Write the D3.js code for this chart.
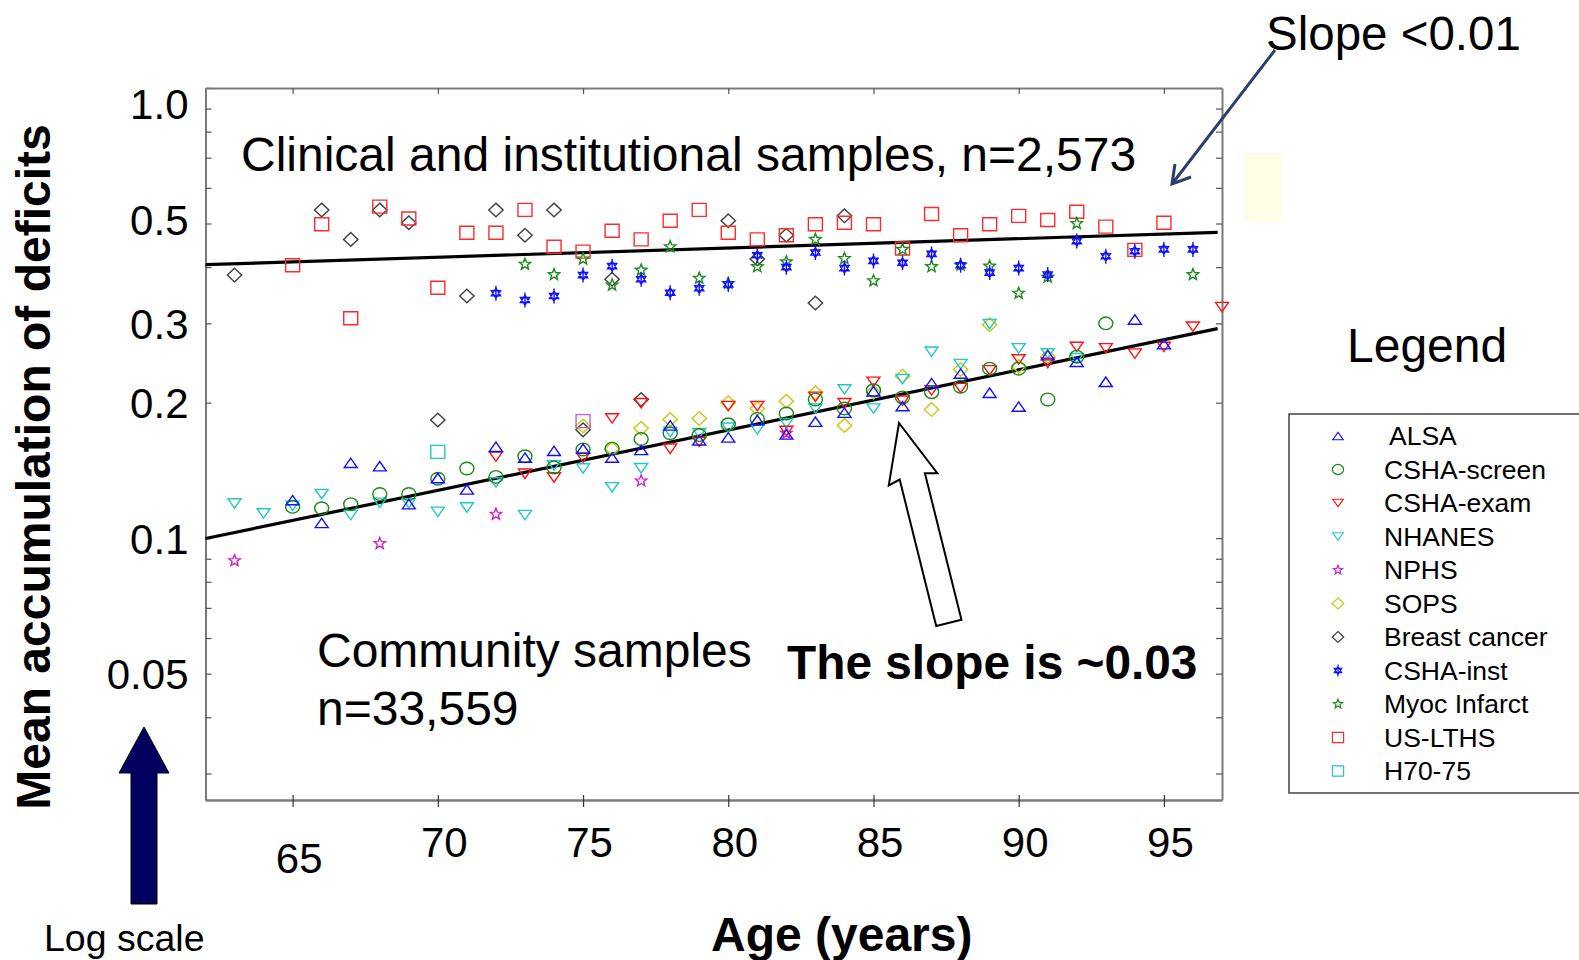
<!DOCTYPE html>
<html><head><meta charset="utf-8">
<script src="https://cdn.jsdelivr.net/npm/d3@7"></script>
<style>html,body{margin:0;padding:0;background:#fff;overflow:hidden}svg{display:block;font-family:"Liberation Sans",Arial,sans-serif}</style>
</head><body><svg id="c" width="1579" height="960"></svg>
<script>
// ---------- data ----------
const xTicks = [65, 70, 75, 80, 85, 90, 95];
const yMajor = [1.0, 0.5, 0.3, 0.2, 0.1, 0.05];
const yTickLabels = ["1.0", "0.5", "0.3", "0.2", "0.1", "0.05"];
const yMinor = [0.9, 0.8, 0.7, 0.6, 0.4, 0.09, 0.08, 0.07, 0.06, 0.04, 0.03];
const seriesNames = ["ALSA", "CSHA-screen", "CSHA-exam", "NHANES", "NPHS", "SOPS", "Breast cancer", "CSHA-inst", "Myoc Infarct", "US-LTHS", "H70-75"];

const alsa = [[65,.1215],[66,.1081],[67,.147],[68,.1445],[69,.119],[70,.136],[71,.1283],[72,.1596],[73,.151],[74,.1563],[75,.158],[76,.151],[77,.157],[78,.178],[79,.165],[80,.1674],[81,.183],[82,.170],[83,.1814],[84,.190],[85,.212],[86,.1965],[87,.221],[88,.232],[89,.2104],[90,.196],[91,.255],[92,.2465],[93,.2225],[94,.306],[95,.2697]];
const cshaScreen = [[65,.1174],[66,.1165],[67,.119],[68,.1253],[69,.1253],[70,.1355],[71,.1428],[72,.1368],[73,.152],[74,.1436],[75,.1574],[76,.158],[77,.166],[78,.171],[79,.1694],[80,.179],[81,.184],[82,.1892],[83,.2033],[84,.194],[85,.213],[86,.2054],[87,.211],[88,.217],[89,.238],[90,.238],[91,.2033],[92,.253],[93,.300]];
const cshaExam = [[72,.1517],[73,.139],[74,.1364],[75,.151],[76,.1845],[77,.1994],[78,.158],[79,.1636],[80,.1965],[81,.1965],[82,.173],[83,.206],[84,.1994],[85,.2225],[86,.202],[87,.213],[88,.2155],[89,.236],[90,.2495],[91,.245],[92,.266],[93,.264],[94,.257],[95,.266],[96,.295],[97,.326]];
const nhanes = [[63,.1194],[64,.1135],[65,.118],[66,.1253],[67,.1125],[68,.1198],[69,.1194],[70,.1144],[71,.117],[72,.133],[73,.1125],[74,.145],[75,.1428],[76,.1297],[77,.143],[78,.172],[79,.171],[80,.176],[81,.1744],[82,.18],[83,.194],[84,.214],[85,.194],[86,.2255],[87,.2595],[88,.2436],[89,.299],[90,.264],[91,.2572],[92,.251]];
const nphs = [[63,.0891],[68,.0973],[72,.113],[77,.134],[82,.171]];
const sops = [[75,.1774],[76,.158],[77,.1754],[78,.1834],[79,.1845],[80,.2],[81,.194],[82,.2015],[83,.2104],[84,.178],[85,.211],[86,.229],[87,.193],[88,.237],[89,.298],[90,.241],[91,.253]];
const breastCancer = [[63,.384],[66,.536],[67,.461],[68,.536],[69,.502],[70,.183],[71,.345],[72,.536],[73,.471],[74,.536],[75,.174],[76,.376],[77,.2033],[80,.507],[81,.417],[82,.471],[83,.333],[84,.520]];
const cshaInst = [[72,.350],[73,.338],[74,.345],[75,.384],[76,.402],[77,.376],[78,.351],[79,.359],[80,.366],[81,.425],[82,.400],[83,.431],[84,.398],[85,.413],[86,.409],[87,.428],[88,.404],[89,.389],[90,.398],[91,.385],[92,.457],[93,.423],[94,.434],[95,.438],[96,.438]];
const myocInfarct = [[73,.406],[74,.385],[75,.417],[76,.365],[77,.394],[78,.444],[79,.378],[80,.368],[81,.401],[82,.411],[83,.461],[84,.418],[85,.373],[86,.438],[87,.401],[88,.404],[89,.402],[90,.350],[91,.380],[92,.500],[96,.385]];
const usLths = [[65,.404],[66,.498],[67,.308],[68,.545],[69,.513],[70,.360],[71,.477],[72,.477],[73,.536],[74,.444],[75,.433],[76,.482],[77,.461],[78,.507],[79,.536],[80,.477],[81,.461],[82,.471],[83,.498],[84,.502],[85,.498],[86,.440],[87,.525],[88,.471],[89,.498],[90,.520],[91,.509],[92,.531],[93,.492],[94,.437],[95,.502]];
const h7075 = [[70,.1555]];
const h7075Extra = [[75,.182]];
const clinicalFit = [[62,.405],[96.85,.478]];
const communityFit = [[62,.0998],[96.85,.292]];

// ---------- styles ----------
const seriesData = [alsa, cshaScreen, cshaExam, nhanes, nphs, sops, breastCancer, cshaInst, myocInfarct, usLths, h7075];
const seriesStyle = [
  {shape:"triUp", color:"#1010ff"},
  {shape:"circle", color:"#1a8a1a"},
  {shape:"triDown", color:"#ff1010"},
  {shape:"triDown", color:"#20c8c8"},
  {shape:"star", color:"#cc22cc"},
  {shape:"diamond", color:"#c8c810"},
  {shape:"diamond", color:"#404040"},
  {shape:"hexa", color:"#1010ff"},
  {shape:"star", color:"#1a8a1a"},
  {shape:"square", color:"#ff2a2a"},
  {shape:"square", color:"#20c8c8"}
];
function shapePath(shape, s){
  const p = d3.path();
  if(shape==="triUp"){ p.moveTo(-6.5*s,4.7*s); p.lineTo(0,-4.7*s); p.lineTo(6.5*s,4.7*s); p.closePath(); }
  else if(shape==="triDown"){ p.moveTo(-6.5*s,-4.7*s); p.lineTo(6.5*s,-4.7*s); p.lineTo(0,4.7*s); p.closePath(); }
  else if(shape==="square"){ p.rect(-7*s,-6.5*s,14*s,13*s); }
  else if(shape==="diamond"){ p.moveTo(0,-6.8*s); p.lineTo(7.2*s,0); p.lineTo(0,6.8*s); p.lineTo(-7.2*s,0); p.closePath(); }
  else if(shape==="circle"){ return `M${-7*s},0a${7*s},${6.3*s} 0 1,0 ${14*s},0a${7*s},${6.3*s} 0 1,0 ${-14*s},0Z`; }
  else if(shape==="star"){
    for(let i=0;i<10;i++){ const r = (i%2===0?6*s:2.6*s); const a = -Math.PI/2 + i*Math.PI/5; const px=r*Math.cos(a), py=r*Math.sin(a); if(i===0)p.moveTo(px,py); else p.lineTo(px,py);} p.closePath();
  }
  else if(shape==="hexa"){
    p.moveTo(0,-5*s); p.lineTo(4.6*s,2.6*s); p.lineTo(-4.6*s,2.6*s); p.closePath();
    p.moveTo(0,5*s); p.lineTo(4.6*s,-2.6*s); p.lineTo(-4.6*s,-2.6*s); p.closePath();
    p.moveTo(0,-7.5*s); p.lineTo(0,7.5*s);
  }
  return p.toString();
}

// ---------- chart ----------
const svg = d3.select("#c");
svg.append("rect").attr("width",1579).attr("height",960).attr("fill","#fff");
const x = d3.scaleLinear().domain([62,97]).range([205.5,1222]);
const y = d3.scaleLog().domain([0.0262,1]).range([800,88]);
const axisCol = "#7a7a7a";

// pale yellow box
svg.append("rect").attr("x",1244).attr("y",153).attr("width",38).attr("height",69).attr("fill","#fffde6");

// axes
const gL = svg.append("g").attr("transform","translate(205.5,0)")
  .call(d3.axisLeft(y).tickValues(yMajor.concat(yMinor)).tickSizeInner(-6).tickSizeOuter(0).tickPadding(17)
  .tickFormat(d => { const i = yMajor.indexOf(d); return i>=0 ? yTickLabels[i] : ""; }));
gL.select(".domain").attr("stroke",axisCol).attr("stroke-width",2);
gL.selectAll(".tick line").attr("stroke","#555").attr("stroke-width",1.2);
gL.selectAll(".tick text").attr("font-size",42).attr("fill","#000").attr("font-family","Liberation Sans, Arial, sans-serif")
  .attr("dy", d => d===1.0 ? "0.72em" : (d===0.5 ? "0.26em" : "0.36em"));

const gR = svg.append("g").attr("transform","translate(1222,0)")
  .call(d3.axisRight(y).tickValues(yMajor.concat(yMinor)).tickSizeInner(-6).tickSizeOuter(0).tickFormat(""));
gR.select(".domain").attr("stroke",axisCol).attr("stroke-width",2);
gR.selectAll(".tick line").attr("stroke","#555").attr("stroke-width",1.2);

const gT = svg.append("g").attr("transform","translate(0,88)")
  .call(d3.axisTop(x).tickValues(xTicks).tickSizeInner(-6).tickSizeOuter(0).tickFormat(""));
gT.select(".domain").attr("stroke",axisCol).attr("stroke-width",2);
gT.selectAll(".tick line").attr("stroke","#555").attr("stroke-width",1.2);

const gB = svg.append("g").attr("transform","translate(0,800)")
  .call(d3.axisBottom(x).tickValues(xTicks).tickSizeInner(7).tickSizeOuter(0).tickPadding(0));
gB.select(".domain").attr("stroke",axisCol).attr("stroke-width",2.5);
gB.selectAll(".tick line").attr("stroke","#333").attr("stroke-width",1.2).attr("y1",-5);
gB.selectAll(".tick text").attr("font-size",42).attr("fill","#000").attr("font-family","Liberation Sans, Arial, sans-serif")
  .attr("dx",6).attr("y", d => d===65 ? 58 : 42).attr("dy","0.36em");

// fit lines
const line = d3.line().x(d=>x(d[0])).y(d=>y(d[1]));
[clinicalFit, communityFit].forEach(f => svg.append("path").attr("d",line(f)).attr("fill","none").attr("stroke","#000").attr("stroke-width",3.2));

// points
const drawOrder = [10,6,9,8,7,5,4,3,2,1,0];
drawOrder.forEach(i => {
  const st = seriesStyle[i];
  svg.append("g").selectAll("path").data(seriesData[i]).join("path")
    .attr("transform", d => `translate(${x(d[0])},${y(d[1])})`)
    .attr("d", shapePath(st.shape,1)).attr("fill","none").attr("stroke",st.color).attr("stroke-width",1.4);
});
svg.append("g").selectAll("path").data(h7075Extra).join("path")
  .attr("transform", d => `translate(${x(d[0])},${y(d[1])})`)
  .attr("d", shapePath("square",1)).attr("fill","none").attr("stroke","#c060d0").attr("stroke-width",1.4);

// hollow arrow
const ah = [[0,0],[25,58],[13,55],[13,206],[-13,206],[-13,55],[-25,58]];
svg.append("path").attr("d", "M"+ah.map(p=>p.join(",")).join("L")+"Z")
  .attr("transform","translate(899,423) rotate(-14)").attr("fill","#fff").attr("stroke","#000").attr("stroke-width",2);

// navy arrow (log scale)
const na = [[144,727],[169,773],[157,773],[157,904],[131,904],[131,773],[119,773]];
svg.append("path").attr("d","M"+na.map(p=>p.join(",")).join("L")+"Z").attr("fill","#00005e").attr("stroke","#000").attr("stroke-width",1);

// slope arrow
svg.append("path").attr("d","M1275,50L1172,184").attr("stroke","#2b3f6e").attr("stroke-width",3).attr("fill","none");
svg.append("path").attr("d","M1175,164L1172,184L1191,177").attr("stroke","#2b3f6e").attr("stroke-width",3).attr("fill","none").attr("stroke-linejoin","miter");

// texts
const T = (t,xx,yy,fs,opt={}) => svg.append("text").attr("x",xx).attr("y",yy).attr("font-size",fs)
  .attr("font-weight",opt.bold?"bold":"normal").attr("fill","#000").attr("text-anchor",opt.anchor||"start").text(t);
T("Slope <0.01",1266,50,47.5);
T("Clinical and institutional samples, n=2,573",241,171,48);
T("Community samples",317,667,48);
T("n=33,559",317,725,48);
T("The slope is ~0.03",787,679,47.8,{bold:true});
T("Legend",1347,362,48);
T("Age (years)",711,951,48,{bold:true});
T("Log scale",44,951,37.5);
svg.append("text").attr("transform","translate(50,467) rotate(-90)").attr("text-anchor","middle")
  .attr("font-size",48).attr("font-weight","bold").text("Mean accumulation of deficits");

// legend
svg.append("rect").attr("x",1289).attr("y",414).attr("width",400).attr("height",379).attr("fill","none").attr("stroke","#444").attr("stroke-width",1.5);
seriesNames.forEach((n,i) => {
  const yy = 436 + i*33.5;
  const st = seriesStyle[i];
  svg.append("path").attr("transform",`translate(1338,${yy})`).attr("d",shapePath(st.shape,0.8))
    .attr("fill","none").attr("stroke",st.color).attr("stroke-width",1.2);
  svg.append("text").attr("x", i===0?1389:1384).attr("y",yy+9).attr("font-size",26.5).text(n);
});
</script></body></html>
